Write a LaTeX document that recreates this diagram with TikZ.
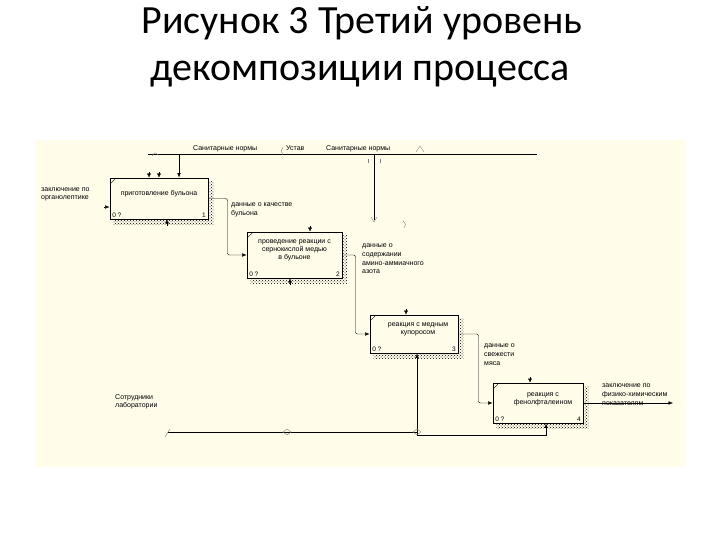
\documentclass[tikz,border=0pt]{standalone}
\usepackage{fontspec}
\setmainfont{Liberation Sans}
\newfontfamily\titlefont{Carlito}
\usetikzlibrary{arrows.meta,patterns,positioning}

\definecolor{sheet}{RGB}{255,252,234}

\tikzset{
  func/.style={draw, line width=0.9pt, inner sep=0pt},
  fname/.style={align=center, inner sep=0pt, font=\fontsize{7}{8}\selectfont},
  num/.style={inner sep=0pt, font=\fontsize{6.5}{7}\selectfont},
  lbl/.style={align=left, inner sep=0pt, anchor=north west, font=\fontsize{7}{8.6}\selectfont},
  flow/.style={-{Latex[length=4.5pt,width=3.5pt]}},
  stub/.style={-{Latex[length=4pt,width=4pt]}},
  tunnel/.style={gray, line width=0.4pt},
}

\begin{document}
\begin{tikzpicture}[x=1pt,y=-1pt]
  \useasboundingbox (0,0) rectangle (720,540);

  % title
  \node[font=\titlefont\fontsize{40}{48}\selectfont, anchor=base] (title1) at (362,34) {Рисунок 3 Третий уровень};
  \node[font=\titlefont\fontsize{40}{48}\selectfont, anchor=base] (title2) at (360,81) {декомпозиции процесса};

  % sheet
  \fill[sheet] (35,140) rectangle (685,467);

  % functions
  \node[func, minimum width=98pt, minimum height=41pt] (b1) at (159,198.5) {};
  \node[func, minimum width=95pt, minimum height=46pt] (b2) at (294.5,255) {};
  \node[func, minimum width=88pt, minimum height=38pt] (b3) at (414,334) {};
  \node[func, minimum width=90pt, minimum height=40pt] (b4) at (538,403) {};

  \foreach \b/\n in {b1/1,b2/2,b3/3,b4/4}{
    \fill[pattern=crosshatch dots, pattern color=black]
      ([shift={(1,4)}]\b.north east) rectangle ([shift={(5,5)}]\b.south east);
    \fill[pattern=crosshatch dots, pattern color=black]
      ([shift={(4,1)}]\b.south west) rectangle ([shift={(1,5)}]\b.south east);
    \draw[line width=0.4pt] ([shift={(1.5,5.5)}]\b.north west) -- ++(4,-4);
    \node[num, anchor=south west] (\b c) at ([shift={(2.5,-2)}]\b.south west) {0 ?};
    \node[num, anchor=south east] (\b n) at ([shift={(-2.5,-2)}]\b.south east) {\n};
  }

  \node[fname] (b1t) at ([yshift=5pt]b1.center) {приготовление бульона};
  \node[fname] (b2t) at ([yshift=5pt]b2.center) {проведение реакции с\\сернокислой медью\\в бульоне};
  \node[fname] (b3t) at ([shift={(4,-4.5)}]b3.center) {реакция с медным\\купоросом};
  \node[fname] (b4t) at ([shift={(5,-4)}]b4.center) {реакция с\\фенолфталеином};

  % controls
  \coordinate (ctlL) at (148,154);
  \coordinate (ctlR) at (537,154);
  \coordinate (c1) at (179,154);
  \coordinate (c2) at (374,154);
  \coordinate (c2e) at (374,220);
  \draw (ctlL) -- (ctlR);
  \draw[flow] (c1) -- (c1 |- b1.north);
  \draw (c2) -- (c2e);
  \coordinate (s1) at (149,172);
  \coordinate (s2) at (159,172);
  \draw[stub] (s1) -- (s1 |- b1.north);
  \draw[stub] (s2) -- (s2 |- b1.north);
  \coordinate (s3) at (310,226);
  \coordinate (s4) at (406,309);
  \coordinate (s5) at (530,377);
  \draw[stub] (s3) -- (s3 |- b2.north);
  \draw[stub] (s4) -- (s4 |- b3.north);
  \draw[stub] (s5) -- (s5 |- b4.north);
  \node[lbl, anchor=base west] (n1) at (193,151) {Санитарные нормы};
  \node[lbl, anchor=base west] (n2) at (286,151) {Устав};
  \node[lbl, anchor=base west] (n3) at (326,151) {Санитарные нормы};

  % tunnel marks
  \draw[tunnel] (152,156) .. controls (155,152) .. (158,155);
  \draw[tunnel] (416,152) -- (420,146) -- (424,152);
  \draw[tunnel] (371,217) -- (374,222) -- (377,217);
  \draw[tunnel] (283,147) .. controls (281,151) .. (283,155);
  \draw[tunnel] (368,159) -- (368,163) (380,159) -- (380,163);
  \draw[tunnel] (403,221) .. controls (406,224) .. (404,228);

  % inputs / outputs
  \coordinate (in1) at (104,207);
  \draw[flow] (in1) -- (in1 -| b1.west);
  \node[lbl, anchor=base west] (i1) at (41,200) {заключение по\\органолептике};
  \draw[flow, rounded corners=2pt] (b1.east) -- ++(19,0) |- (b2.west);
  \node[lbl] (o1) at (231,203) {данные о качестве\\бульона};
  \draw[flow, rounded corners=2pt] (b2.east) -- ++(13,0) |- (b3.west);
  \node[lbl] (o2) at (362,244) {данные о\\содержании\\амино-аммиачного\\азота};
  \draw[flow, rounded corners=2pt] (b3.east) -- ++(20,0) |- (b4.west);
  \node[lbl] (o3) at (484,344) {данные о\\свежести\\мяса};
  \coordinate (out) at (673,403);
  \draw[flow] (b4.east) -- (out);
  \node[lbl] (o4) at (602,384) {заключение по\\физико-химическим\\показателям};

  % mechanisms
  \coordinate (m0) at (168,432);
  \coordinate (m1) at (417,432);
  \coordinate (m2) at (546,435);
  \draw (m0) -- (m1);
  \draw[flow] (m1) -- (m1 |- b3.south);
  \draw[flow] (m1) |- (m2) -- (m2 |- b4.south);
  \node[lbl] (w1) at (115,394) {Сотрудники\\лаборатории};
  \coordinate (s6) at (167,226);
  \coordinate (s7) at (290,285);
  \draw[stub] (s6) -- (s6 |- b1.south);
  \draw[stub] (s7) -- (s7 |- b2.south);
  \draw[tunnel] (165,437) -- (170,429);
  \draw[tunnel] (283,432) -- (287,429) -- (291,432) -- (287,435) -- cycle;
  \draw[tunnel] (413,432) -- (417,429) -- (421,432) -- (417,435) -- cycle;
\end{tikzpicture}
\end{document}
